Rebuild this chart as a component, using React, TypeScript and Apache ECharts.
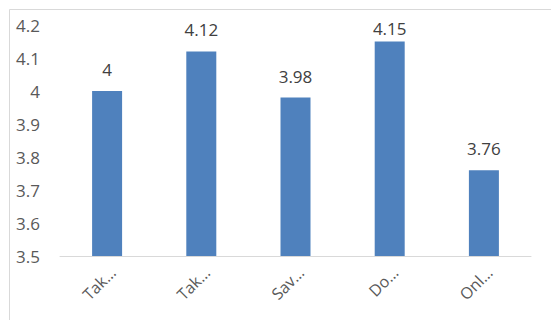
import React, { useEffect, useRef } from "react";
import * as echarts from "echarts";

const categories = ["Tak…", "Tak…", "Sav…", "Do…", "Onl…"];
const values = [4, 4.12, 3.98, 4.15, 3.76];
const yMin = 3.5;
const yMax = 4.2;
const yInterval = 0.1;

const GRID_TOP = 25;
const GRID_BOTTOM = 64;
const CHART_H = 320;
const PLOT_H = CHART_H - GRID_TOP - GRID_BOTTOM;

export default function App() {
  const ref = useRef<HTMLDivElement>(null);
  useEffect(() => {
    if (!ref.current) return;
    const chart = echarts.init(ref.current, null, { renderer: "svg" });
    // Excel-like clamping: labels cannot rise above the top of the plot area
    const seriesData = values.map((v) => {
      const barTop = ((yMax - v) / (yMax - yMin)) * PLOT_H;
      const gap = Math.min(17, barTop - 8);
      return { value: v, label: { distance: 13 - (17 - gap) } };
    });
    chart.setOption({
      animation: false,
      backgroundColor: "#ffffff",
      textStyle: { fontFamily: "Open Sans" },
      graphic: [
        {
          type: "rect",
          shape: { x: 9.5, y: 9.5, width: 700, height: 500 },
          style: { fill: "none", stroke: "#d9d9d9", lineWidth: 1 },
          silent: true,
        },
      ],
      grid: { left: 60, right: 20, top: GRID_TOP, bottom: GRID_BOTTOM },
      xAxis: {
        type: "category",
        data: categories,
        axisLine: { lineStyle: { color: "#d9d9d9", width: 1 } },
        axisTick: { show: false },
        axisLabel: {
          rotate: 45,
          interval: 0,
          color: "#595959",
          fontSize: 16,
          fontFamily: "Open Sans",
          margin: 8,
          verticalAlign: "top",
        },
      },
      yAxis: {
        type: "value",
        min: yMin,
        max: yMax,
        interval: yInterval,
        axisLine: { show: false },
        axisTick: { show: false },
        splitLine: { show: false },
        axisLabel: {
          color: "#595959",
          fontSize: 17,
          fontFamily: "Open Sans",
          margin: 20,
          formatter: (v: number) => String(Math.round(v * 10) / 10),
        },
      },
      series: [
        {
          type: "bar",
          data: seriesData,
          barWidth: 30,
          itemStyle: { color: "#4f81bd" },
          label: {
            show: true,
            position: "top",
            distance: 13,
            color: "#404040",
            fontSize: 17,
            fontFamily: "Open Sans",
          },
        },
      ],
    });
    return () => chart.dispose();
  }, []);
  return (
    <div
      ref={ref}
      style={{ position: "fixed", left: 0, top: 0, width: 551, height: 320 }}
    />
  );
}
